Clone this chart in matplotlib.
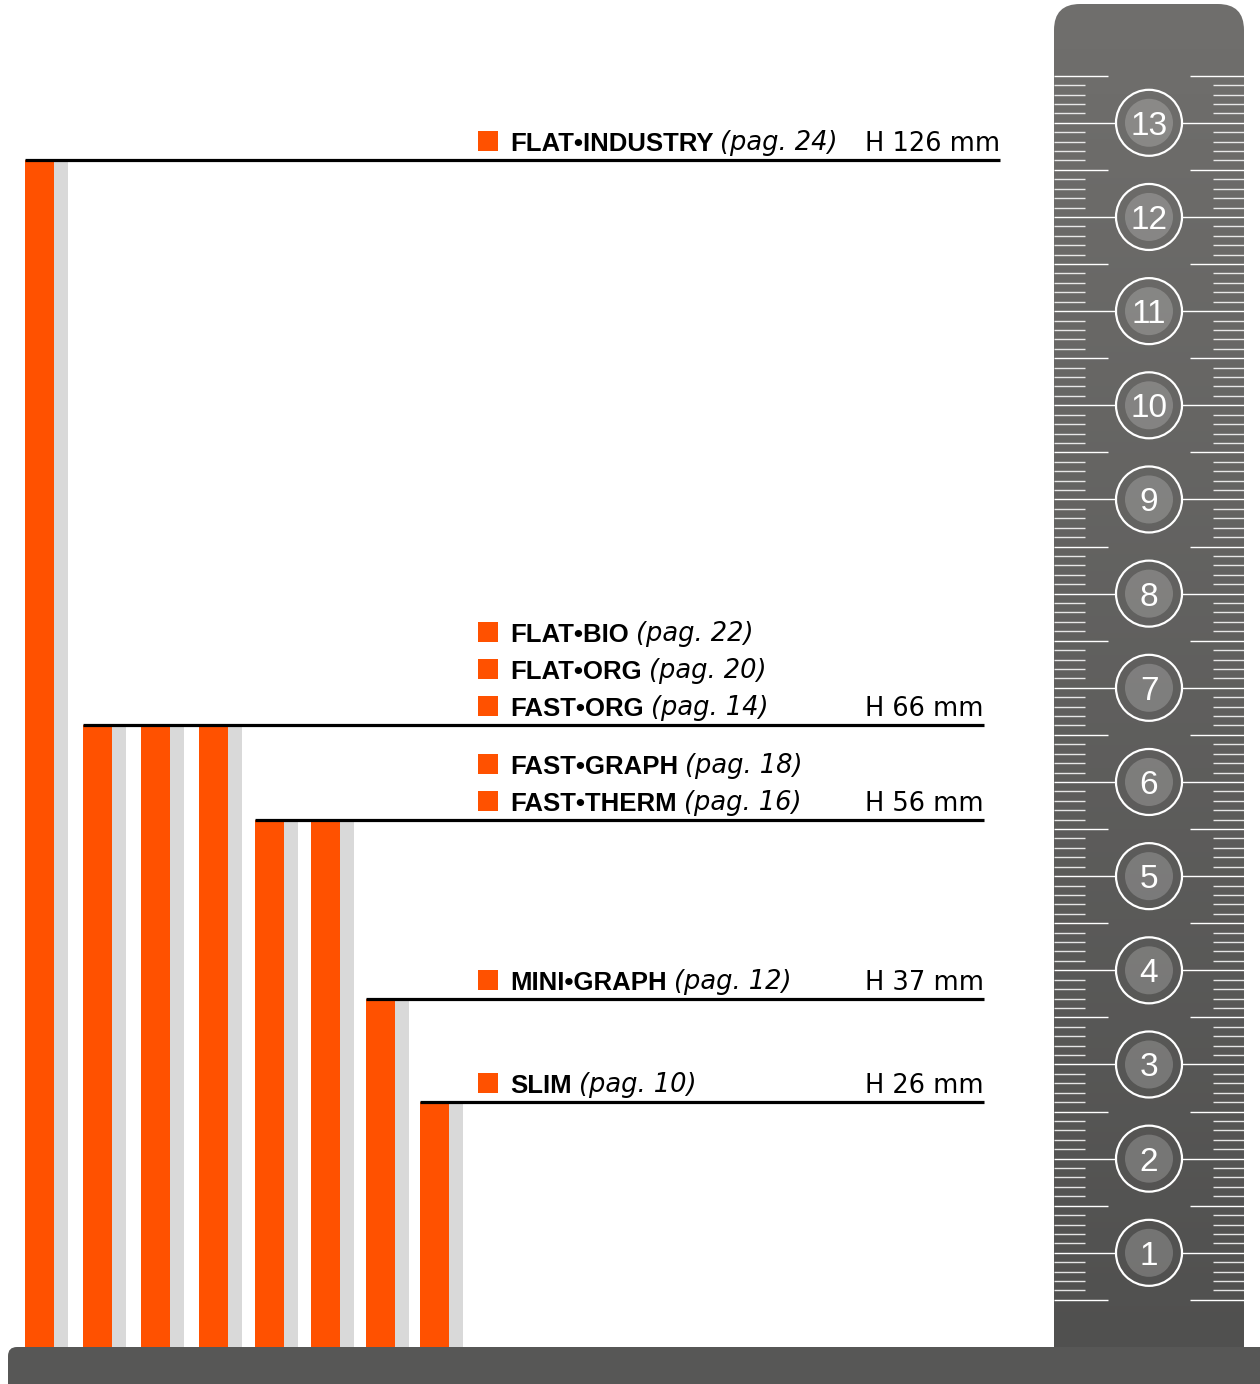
import matplotlib
matplotlib.use("Agg")
import matplotlib.pyplot as plt
from matplotlib.patches import FancyBboxPatch, Ellipse, Rectangle
from matplotlib.colors import LinearSegmentedColormap
import numpy as np

# products, left to right
names = ["FLAT•INDUSTRY", "FLAT•BIO", "FLAT•ORG", "FAST•ORG",
         "FAST•GRAPH", "FAST•THERM", "MINI•GRAPH", "SLIM"]
pages = [24, 22, 20, 14, 18, 16, 12, 10]
heights = [126, 66, 66, 66, 56, 56, 37, 26]   # mm
ruler_cm = list(range(1, 14))

ORANGE = "#ff5100"
SHADOW = "#d9d9d9"
PX = 9.417          # pixels per mm
BASE = 1347         # pixel row of the ground line

fig = plt.figure(figsize=(12.6, 13.84), dpi=100)
ax = fig.add_axes([0, 0, 1, 1])

# bars with their grey shadow
bar_left = np.array([25, 83, 141, 199, 255, 311, 366, 420])
ax.bar(bar_left, heights, width=29, align="edge", color=ORANGE, zorder=2)
ax.bar(bar_left + 29, heights, width=14, align="edge", color=SHADOW, zorder=2)

# labels grouped by height
fs = 18.5
row_gap = 37 / PX
lift = 9 / PX
seen = []
for i, h in enumerate(heights):
    if h in seen:
        continue
    seen.append(h)
    idx = [j for j, hh in enumerate(heights) if hh == h]
    right = 1000 if i == 0 else 984
    ax.plot([bar_left[idx[0]], right], [h, h], color="black", lw=2.3,
            solid_capstyle="butt", zorder=4)
    for k, j in enumerate(idx):
        yb = h + lift + (len(idx) - 1 - k) * row_gap
        ax.add_patch(Rectangle((478, yb), 20, 20 / PX, color=ORANGE, lw=0, zorder=3))
        t = ax.text(510, yb, names[j], fontsize=fs, fontweight="bold",
                    family="Liberation Sans", va="baseline", zorder=3)
        ax.annotate(f"(pag. {pages[j]})", xy=(1, 0), xycoords=t,
                    xytext=(5, 0), textcoords="offset points", va="bottom",
                    fontsize=fs, style="italic", family="DejaVu Sans", zorder=3)
    ax.text(865, h + lift, f"H {h} mm", fontsize=fs, family="DejaVu Sans",
            va="baseline", zorder=3)

# ruler
top_mm = (BASE - 4) / PX
ruler = FancyBboxPatch((1054, -10), 190, top_mm + 10,
                       boxstyle="round,pad=0,rounding_size=26",
                       mutation_aspect=1 / PX, fc="none", ec="none", zorder=1)
ax.add_patch(ruler)
cmap = LinearSegmentedColormap.from_list("ruler", ["#4e4e4d", "#706f6d"])
grad = np.linspace(0, 1, 256).reshape(-1, 1)
im = ax.imshow(grad, extent=[1054, 1244, -10, top_mm], origin="lower",
               aspect="auto", cmap=cmap, zorder=1)
im.set_clip_path(ruler)

mm = np.arange(5, 136)
cm_t = mm[mm % 10 == 0]
half_t = mm[(mm % 5 == 0) & (mm % 10 != 0)]
small_t = mm[mm % 5 != 0]
kw = dict(color="white", lw=1.0, zorder=2)
ax.hlines(cm_t, 1054, 1116, **kw)
ax.hlines(cm_t, 1182, 1244, **kw)
ax.hlines(half_t, 1054, 1108, **kw)
ax.hlines(half_t, 1190, 1244, **kw)
ax.hlines(small_t, 1054, 1085, color="white", lw=1.0, alpha=0.85, zorder=2)
ax.hlines(small_t, 1213, 1244, color="white", lw=1.0, alpha=0.85, zorder=2)

for c in ruler_cm:
    y = c * 10
    ax.add_patch(Ellipse((1149, y), 66, 66 / PX, fill=False, ec="white",
                         lw=1.6, zorder=3))
    ax.add_patch(Ellipse((1149, y), 48, 48 / PX, fc="white", ec="none",
                         alpha=0.2, zorder=3))
    ax.text(1149, y, str(c), ha="center", va="center_baseline", fontsize=24,
            family="Liberation Sans", color="white", zorder=4)

# ground
ax.add_patch(FancyBboxPatch((8, -10), 1300, 10,
                            boxstyle="round,pad=0,rounding_size=9",
                            mutation_aspect=1 / PX, fc="#575756", ec="none",
                            zorder=5))

ax.set_xlim(0, 1260)
ax.set_ylim(-(1384 - BASE) / PX, BASE / PX)
ax.axis("off")

fig.savefig("out.png", dpi=100)
